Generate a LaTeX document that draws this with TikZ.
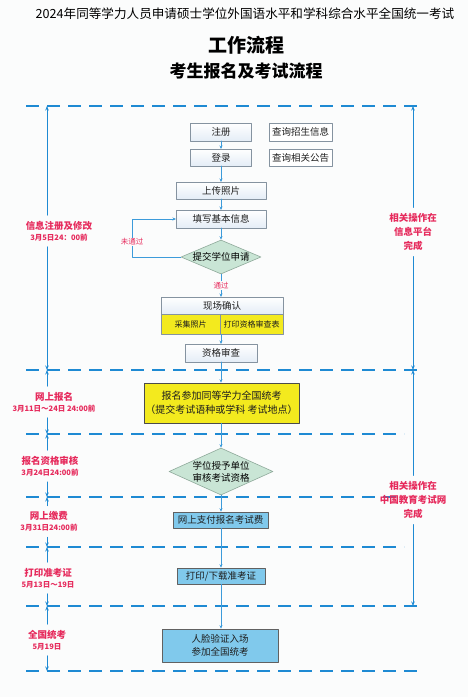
\documentclass[tikz,border=0pt]{standalone}
\usepackage{fontspec}
\setmainfont{Noto Sans CJK SC}
\usepackage{xcolor}
\usepackage{tikz}
\usetikzlibrary{arrows.meta,positioning,calc,shapes.geometric}
\definecolor{paper}{HTML}{FBFCFC}
\definecolor{lineblue}{HTML}{1E8AD3}
\definecolor{flowblue}{HTML}{3C9BDA}
\definecolor{datered}{HTML}{E62A5C}
\definecolor{boxgray}{HTML}{8593A0}
\definecolor{softbox}{HTML}{E4EDF6}
\definecolor{softgreen}{HTML}{C9E5D5}
\definecolor{greenedge}{HTML}{8EA99A}
\definecolor{signyellow}{HTML}{F3EA1E}
\definecolor{skybox}{HTML}{80C9EC}
\definecolor{ink}{HTML}{1E1E1E}
\newcommand{\datesize}{\bfseries\fontsize{7.5}{10}\selectfont}
\tikzset{
    every picture/.style={line cap=round,line join=round},
    stepnode/.style={draw=boxgray,top color=white,bottom color=softbox,line width=0.6pt,
      inner sep=0pt,outer sep=0pt,text=ink,font=\fontsize{9.5}{11}\selectfont,align=center},
    infonode/.style={stepnode,top color=white,bottom color=white},
    yellowcell/.style={draw=boxgray,fill=signyellow,line width=0.6pt,inner sep=0pt,
      text=ink,font=\fontsize{8}{10}\selectfont,align=center},
    signbox/.style={draw=ink!80,fill=signyellow,line width=0.6pt,inner sep=0pt,
      text=ink,font=\fontsize{10}{14}\selectfont,align=center},
    paybox/.style={draw=ink!70,fill=skybox,line width=0.6pt,inner sep=0pt,
      text=ink,font=\fontsize{9.5}{13}\selectfont,align=center},
    checkdiamond/.style={diamond,draw=greenedge,fill=softgreen,line width=0.6pt,
      inner sep=0pt,text=ink,font=\fontsize{9.5}{12}\selectfont,align=center},
    passlabel/.style={fill=paper,inner sep=1pt,text=datered,font=\fontsize{7.5}{9}\selectfont},
    sidelabel/.style={text=datered,align=center,inner sep=0pt,outer sep=6pt,
      font=\bfseries\fontsize{9.5}{14}\selectfont},
    flowarrow/.style={-{Stealth[length=3.5pt,width=3pt]},draw=flowblue,line width=0.6pt},
    spanarrow/.style={-{Stealth[length=4.5pt,width=3.5pt]},draw=lineblue,line width=1pt},
    phaseline/.style={draw=lineblue,line width=1.7pt,line cap=butt,dash pattern=on 13pt off 8pt}
}
\begin{document}
\begin{tikzpicture}[x=1pt,y=-1pt]
  \useasboundingbox[fill=paper] (0,0) rectangle (468,697);
  % titles
  \node[font=\fontsize{12.6}{14}\selectfont] (title) at (245,14)
    {2024年同等学力人员申请硕士学位外国语水平和学科综合水平全国统一考试};
  \node[font=\bfseries\fontsize{19}{22}\selectfont] (work) at (246.5,45) {工作流程};
  \node[font=\bfseries\fontsize{17}{20}\selectfont] (flow) at (246,71) {考生报名及考试流程};

  % phase lines
  \foreach \n/\y/\e in {l0/106/418,l1/370/418,l2/434/404,l3/497/404,l4/547/404,l5/606/418,l6/671/418} {
    \coordinate (\n w) at (26,\y);
    \coordinate (\n e) at (\e,\y);
    \coordinate (\n a) at (47,\y);
    \coordinate (\n b) at (413,\y);
    \draw[phaseline] (\n w) -- (\n e);
  }

  % left time spans
  \node[sidelabel] (t1) at (59,231) {信息注册及修改\\[-3pt]{\datesize 3月5日24：00前}};
  \node[sidelabel] (t2) at (54,402) {网上报名\\[-3pt]{\datesize 3月11日～24日\ 24:00前}};
  \node[sidelabel] (t3) at (50,466) {报名资格审核\\[-3pt]{\datesize 3月24日24:00前}};
  \node[sidelabel] (t4) at (49,521.5) {网上缴费\\[-3pt]{\datesize 3月31日24:00前}};
  \node[sidelabel] (t5) at (48,578) {打印准考证\\[-3pt]{\datesize 5月13日～19日}};
  \node[sidelabel] (t6) at (47,640) {全国统考\\[-3pt]{\datesize 5月19日}};
  \foreach \t/\a/\b in {t1/l0/l1,t2/l1/l2,t3/l2/l3,t4/l3/l4,t5/l4/l5,t6/l5/l6} {
    \draw[spanarrow] (\t.north -| \a a) -- (\a a);
    \draw[spanarrow] (\t.south -| \b a) -- (\b a);
  }

  % right side notes
  \node[sidelabel] (r1) at (413,232) {相关操作在\\信息平台\\完成};
  \node[sidelabel] (r2) at (413,500) {相关操作在\\中国教育考试网\\完成};
  \draw[spanarrow] (r1.north) -- (l0b);
  \draw[spanarrow] (r1.south) -- (l1b);
  \draw[spanarrow] (r2.north) -- (l1b);
  \draw[spanarrow] (r2.south) -- (l5b);

  % registration on the info platform
  \node[stepnode,minimum width=61pt,minimum height=18pt] (reg) at (221,132) {注册};
  \node[infonode,minimum width=63pt,minimum height=18pt] (qinfo) at (300.5,132) {查询招生信息};
  \node[stepnode,minimum width=61pt,minimum height=17pt] (login) at (221,157.5) {登录};
  \node[infonode,minimum width=63pt,minimum height=17pt] (qnote) at (300.5,157.5) {查询相关公告};
  \node[stepnode,minimum width=90pt,minimum height=17pt] (photo) at (221,190.5) {上传照片};
  \node[stepnode,minimum width=90pt,minimum height=18pt] (basic) at (221,219) {填写基本信息};
  \node[checkdiamond,minimum width=80pt,minimum height=34pt,
    label={center:\fontsize{9.5}{12}\selectfont 提交学位申请}] (apply) at (221,257) {};
  \node[stepnode,minimum width=122pt,minimum height=17pt] (site) at (222,305.5) {现场确认};
  \node[yellowcell,minimum width=59pt,minimum height=20pt] (collect) at (190.5,324) {采集照片};
  \node[yellowcell,minimum width=63pt,minimum height=20pt] (form) at (251.5,324) {打印资格审查表};
  \node[stepnode,minimum width=72pt,minimum height=18pt] (review) at (221,353) {资格审查};

  \draw[flowarrow] (reg) -- (login);
  \draw[flowarrow] (login) -- (photo);
  \draw[flowarrow] (photo) -- (basic);
  \draw[flowarrow] (basic) -- (apply);
  \coordinate (back) at (132,257);
  \draw[flowarrow] (apply.west) -- (back) |- (basic.west);
  \node[passlabel] (fail) at (132,242) {未通过};
  \draw[flowarrow] (apply.south) -- node[passlabel] (pass) {通过} (site.north -| apply);
  \draw[flowarrow] (collect.south -| review) -- (review);

  % online sign-up and exam
  \node[signbox,minimum width=155pt,minimum height=40pt] (sign) at (221.5,403)
    {报名参加同等学力全国统考\\（提交考试语种或学科\ 考试地点）};
  \node[checkdiamond,minimum width=104pt,minimum height=47pt,
    label={[align=center,font=\fontsize{9.5}{12}\selectfont]center:学位授予单位\\审核考试资格}] (audit) at (221,471.5) {};
  \node[paybox,minimum width=95pt,minimum height=16pt] (pay) at (220.5,520) {网上支付报名考试费};
  \node[paybox,minimum width=88pt,minimum height=16pt] (ticket) at (221,576) {打印/下载准考证};
  \node[paybox,minimum width=116pt,minimum height=33pt] (exam) at (220,645.5) {人脸验证入场\\参加全国统考};

  \draw[flowarrow] (review) -- (sign.north -| review);
  \draw[flowarrow] (sign.south -| audit) -- (audit);
  \draw[flowarrow] (audit) -- (pay.north -| audit);
  \draw[flowarrow] (pay.south -| audit) -- (ticket.north -| audit);
  \draw[flowarrow] (ticket.south -| audit) -- (exam.north -| audit);
\end{tikzpicture}
\end{document}
